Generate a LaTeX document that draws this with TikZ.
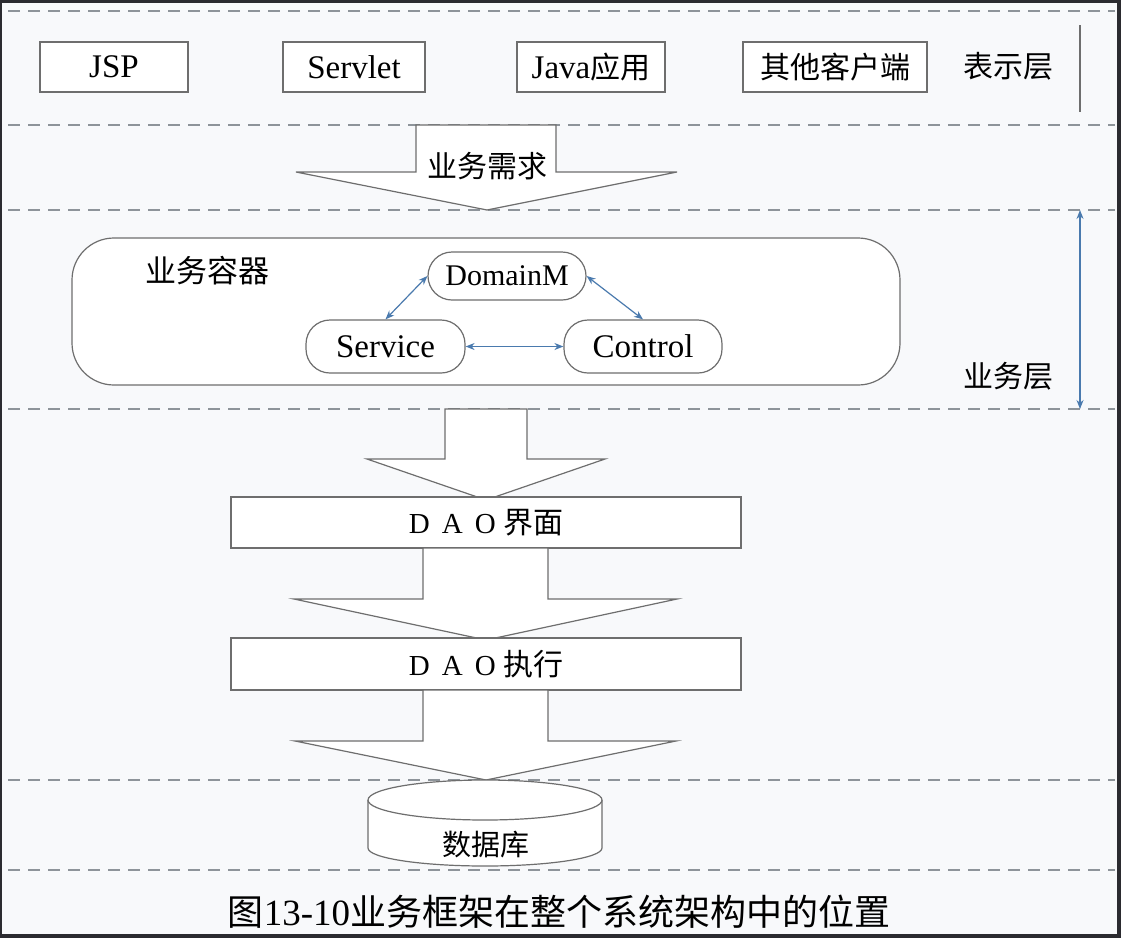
\documentclass[tikz,border=0pt]{standalone}
\usepackage{fontspec}
\setmainfont{Liberation Serif}
\newfontfamily\cjk{Noto Sans CJK SC}
\usetikzlibrary{arrows.meta,calc}
\definecolor{linegray}{HTML}{6E6E6E}
\definecolor{dashgray}{HTML}{8E949A}
\definecolor{arrowblue}{HTML}{4A7AAE}
\definecolor{paper}{HTML}{F8F9FB}
\definecolor{frame}{HTML}{2B2B30}
\tikzset{
  layerline/.style={dashgray, line width=1.1pt, dash pattern=on 12pt off 8pt},
  clientbox/.style={draw=linegray, line width=1.2pt, fill=white, minimum height=50pt, inner sep=0pt, font=\fontsize{33}{35}\selectfont},
  roundbox/.style={draw=linegray, line width=1.2pt, fill=white, rounded corners=24pt, inner sep=0pt, font=\fontsize{33}{35}\selectfont},
  daobox/.style={draw=linegray, line width=1.2pt, fill=white, minimum width=510pt, inner sep=0pt, font=\fontsize{29}{32}\selectfont},
  blockarrow/.style={draw=linegray, line width=1.2pt, fill=white, line join=miter},
  linkarrow/.style={arrowblue, line width=1.2pt, {Stealth[length=9pt,width=7pt]}-{Stealth[length=9pt,width=7pt]}},
  plainlabel/.style={inner sep=0pt, font=\cjk\fontsize{30}{32}\selectfont},
}
\begin{document}
\begin{tikzpicture}[x=1pt,y=-1pt]
% frame and paper
\fill[frame] (0,0) rectangle (1121,938);
\fill[paper] (2,3) rectangle (1117,934);
\useasboundingbox (0,0) rectangle (1121,938);

% layer separators
\foreach \yy in {11,125,210,409,780,870}
  \draw[layerline] (8,\yy) -- (1115,\yy);

% presentation layer
\node[clientbox, minimum width=148pt] (jsp) at (114,67) {JSP};
\node[clientbox, minimum width=142pt] (servlet) at (354,67) {Servlet};
\node[clientbox, minimum width=148pt] (javaapp) at (591,67) {Java{\cjk\fontsize{30}{32}\selectfont 应用}};
\node[clientbox, minimum width=184pt, font=\cjk\fontsize{30}{32}\selectfont] (otherclient) at (835,67) {其他客户端};
\node[plainlabel] (showlayer) at (1008,66) {表示层};
\coordinate (pl1) at (1080,25);
\coordinate (pl2) at (1080,112);
\draw[linegray, line width=1.2pt] (pl1) -- (pl2);

% business request arrow
\draw[blockarrow] (416,125) -- (416,172) -- (296,172) -- (487,210) -- (677,172) -- (556,172) -- (556,125) -- cycle;
\node[plainlabel] (request) at (487,166) {业务需求};

% business layer
\node[draw=linegray, line width=1.2pt, fill=white, rounded corners=42pt, minimum width=828pt, minimum height=147pt] (container) at (486,311.5) {};
\node[plainlabel, font=\cjk\fontsize{31}{33}\selectfont] (containerlabel) at (207,271) {业务容器};
\node[roundbox, minimum width=158pt, minimum height=48pt, font=\fontsize{30}{32}\selectfont] (domain) at (507,276) {DomainM};
\node[roundbox, minimum width=159pt, minimum height=53pt] (service) at (385.5,346.5) {Service};
\node[roundbox, minimum width=158pt, minimum height=53pt] (control) at (643,346.5) {Control};
\draw[linkarrow] (service.north) -- (domain.west);
\draw[linkarrow] (domain.east) -- (control.north);
\draw[linkarrow] (service.east) -- (control.west);

\coordinate (bl1) at (1080,210);
\coordinate (bl2) at (1080,409);
\draw[linkarrow] (bl1) -- (bl2);
\node[plainlabel] (bizlayer) at (1008,376) {业务层};

% DAO arrows
\draw[blockarrow] (445,409) -- (445,459) -- (367,459) -- (486,500) -- (605,459) -- (527,459) -- (527,409) -- cycle;
\node[daobox, minimum height=51pt] (dao1) at (486,522.5) {D\, A\, O {\cjk\fontsize{30}{32}\selectfont 界面}};
\draw[blockarrow] (423,548) -- (423,599) -- (294,599) -- (486,640) -- (677,599) -- (548,599) -- (548,548) -- cycle;
\node[daobox, minimum height=52pt] (dao2) at (486,664) {D\, A\, O {\cjk\fontsize{30}{32}\selectfont 执行}};
\draw[blockarrow] (423,690) -- (423,741) -- (295,741) -- (486,780) -- (676,741) -- (548,741) -- (548,690) -- cycle;

% database cylinder
\draw[linegray, line width=1.2pt, fill=white] (368,800) -- (368,848) arc[start angle=180, end angle=0, x radius=117, y radius=18] -- (602,800);
\draw[linegray, line width=1.2pt, fill=white] (485,800) ellipse[x radius=117, y radius=20];
\node[plainlabel, font=\cjk\fontsize{29}{31}\selectfont] (database) at (486,845) {数据库};

% caption
\node[inner sep=0pt, font=\cjk\fontsize{36}{40}\selectfont] (caption) at (559,912) {图{\fontsize{37}{40}\selectfont\rmfamily 13-10}业务框架在整个系统架构中的位置};
\end{tikzpicture}
\end{document}
